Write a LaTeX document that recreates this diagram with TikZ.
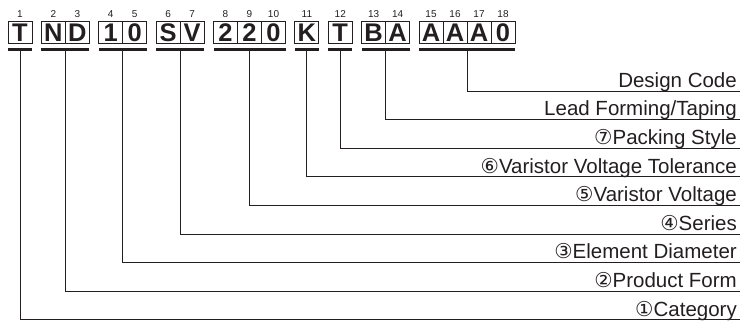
\documentclass[tikz,border=0pt]{standalone}
\usepackage{fontspec}
\setmainfont{Liberation Sans}
\newfontfamily\circfont{DejaVu Sans}
\usetikzlibrary{positioning}
\definecolor{ink}{HTML}{231F20}
\tikzset{
    CELL/.style ={rectangle,draw=ink,line width=0.9pt,minimum width=24pt,minimum height=22.4pt,inner sep=0pt,text=ink,font=\fontsize{25.5}{25.5}\selectfont\bfseries},
    NUM/.style ={inner sep=0pt,text=ink,font=\fontsize{10}{10}\selectfont},
    BAR/.style ={rectangle,fill=ink,minimum height=2.4pt,inner sep=0pt},
    LAB/.style ={anchor=base east,inner sep=0pt,text=ink,font=\fontsize{20.5}{20.5}\selectfont},
    LEAD/.style={draw=ink,line width=1pt}
}
\newcommand{\cnum}[1]{{\circfont #1}}

\begin{document}
\begin{tikzpicture}[x=1pt,y=-1pt]
        \useasboundingbox (0,0) rectangle (742,324);
        % code letters and their positions
        \foreach \i/\x/\t in {1/20/T,2/53.375/N,3/77.375/D,4/110.75/1,5/134.75/0,
                6/168.125/S,7/192.125/V,8/225.5/2,9/249.5/2,10/273.5/0,11/306.875/K,
                12/340.25/T,13/373.625/B,14/397.625/A,15/431/A,16/455/A,17/479/A,18/503/0}{
            \node[CELL] (c\i) at (\x,32.5) {\t};
            \node[NUM,above=3.4pt of c\i] (n\i) {\i};
        }
        % groups and what they mean
        \foreach \g/\x/\w/\y/\t in {1/20/24/319.8/{\cnum{①}Category},
                2/65.375/48/291.2/{\cnum{②}Product Form},
                3/122.75/48/262.6/{\cnum{③}Element Diameter},
                4/180.125/48/234/{\cnum{④}Series},
                5/249.5/72/205.4/{\cnum{⑤}Varistor Voltage},
                6/306.875/24/176.8/{\cnum{⑥}Varistor Voltage Tolerance},
                7/340.25/24/148.2/{\cnum{⑦}Packing Style},
                8/385.625/48/119.6/{Lead Forming/Taping},
                9/467/96/91/{Design Code}}{
            \node[BAR,minimum width=\w pt] (b\g) at (\x,49.5) {};
            \node[LAB] (l\g) at (737,\y-3.7) {\t};
            \coordinate (e\g) at (740,\y);
            \draw[LEAD] (b\g.south) |- (e\g);
        }
    \end{tikzpicture}
\end{document}
